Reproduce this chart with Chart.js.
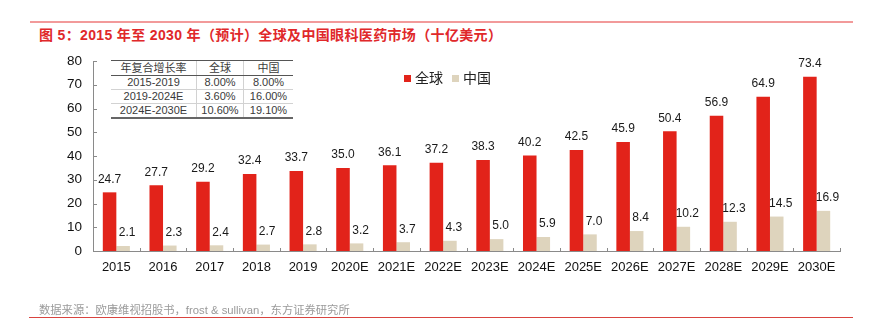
<!DOCTYPE html>
<html>
<head>
<meta charset="utf-8">
<script src="https://cdn.jsdelivr.net/npm/chart.js@4/dist/chart.umd.min.js"></script>
<style>
  html, body { margin: 0; padding: 0; background: #fff; }
  body { width: 871px; height: 322px; position: relative; overflow: hidden;
         font-family: "Liberation Sans", "Noto Sans CJK SC", sans-serif; }
  #topline { position: absolute; left: 30px; top: 21px; width: 823px; height: 2px; background: #f29a9a; }
  #title { position: absolute; left: 39px; top: 24px; font-size: 14px; font-weight: bold; color: #e0282a;
           white-space: nowrap; letter-spacing: 0.35px; }
  #source { position: absolute; left: 39px; top: 301px; font-size: 11.3px; color: #9a9a9a; white-space: nowrap; }
  #bottomline { position: absolute; left: 29px; top: 317px; width: 824px; height: 1px; background: #d9443f; }
  #wrap { position: absolute; left: 0; top: 0; width: 871px; height: 322px; }
  #legend { position: absolute; left: 404px; top: 67px; font-size: 14px; color: #222; white-space: nowrap; }
  #legend span.sw { display: inline-block; width: 7px; height: 7px; margin-right: 4px; vertical-align: 1px; }
  #legend span.item { margin-right: 9px; }
  table#cagr { position: absolute; left: 111px; top: 60px; border-collapse: collapse; font-size: 11px; color: #3a3a3a;
               background: #fff; }
  #cagr td { padding: 0; height: 13px; line-height: 13px; text-align: center; border-bottom: 1px solid #d2d2d2; }
  #cagr td + td { border-left: 1px solid #d2d2d2; }
  #cagr tr.head td { border-top: 1px solid #555; border-bottom: 1px solid #555; height: 14px; }
  #cagr tr.last td { border-bottom: 2px solid #666; }
</style>
</head>
<body>
<div id="topline"></div>
<div id="title">图 5：2015 年至 2030 年（预计）全球及中国眼科医药市场（十亿美元）</div>
<div id="wrap"><canvas id="c" width="871" height="322"></canvas></div>
<table id="cagr">
  <tr class="head"><td style="width:85px">年复合增长率</td><td style="width:46px">全球</td><td style="width:49px">中国</td></tr>
  <tr><td>2015-2019</td><td>8.00%</td><td>8.00%</td></tr>
  <tr><td>2019-2024E</td><td>3.60%</td><td>16.00%</td></tr>
  <tr class="last"><td>2024E-2030E</td><td>10.60%</td><td>19.10%</td></tr>
</table>
<div id="legend"><span class="item"><span class="sw" style="background:#e2231a"></span>全球</span><span class="item"><span class="sw" style="background:#ded4bd"></span>中国</span></div>
<div id="source">数据来源：欧康维视招股书，frost &amp; sullivan，东方证券研究所</div>
<div id="bottomline"></div>

<script>
// Market size by year, billions of USD
const years = ['2015','2016','2017','2018','2019','2020E','2021E','2022E','2023E','2024E',
               '2025E','2026E','2027E','2028E','2029E','2030E'];
const globalMarket = [24.7, 27.7, 29.2, 32.4, 33.7, 35.0, 36.1, 37.2, 38.3, 40.2, 42.5, 45.9, 50.4, 56.9, 64.9, 73.4];
const chinaMarket  = [2.1, 2.3, 2.4, 2.7, 2.8, 3.2, 3.7, 4.3, 5.0, 5.9, 7.0, 8.4, 10.2, 12.3, 14.5, 16.9];
const yTicks = [0, 10, 20, 30, 40, 50, 60, 70, 80];

const RED = '#e2231a';
const BEIGE = '#ded4bd';
const AXIS = '#8a8a8a';

// Value labels above each bar, plus short inward tick marks on both axes
const barLabels = {
  id: 'barLabels',
  afterDatasetsDraw(chart) {
    const ctx = chart.ctx;
    ctx.save();
    ctx.font = '12px "Liberation Sans", Arial, sans-serif';
    ctx.fillStyle = '#1a1a1a';
    ctx.textAlign = 'center';
    ctx.textBaseline = 'middle';
    chart.data.datasets.forEach((ds, di) => {
      const meta = chart.getDatasetMeta(di);
      meta.data.forEach((bar, i) => {
        const dx = di === 1 ? 4 : 0;
        ctx.fillText(ds.data[i].toFixed(1), bar.x + dx, bar.y - 13);
      });
    });
    // axis ticks
    const x = chart.scales.x, y = chart.scales.y;
    ctx.strokeStyle = AXIS;
    ctx.lineWidth = 1;
    ctx.beginPath();
    yTicks.forEach(v => {
      const py = Math.round(y.getPixelForValue(v)) + 0.5;
      ctx.moveTo(x.left, py); ctx.lineTo(x.left + 4, py);
    });
    const n = years.length;
    const w = (x.right - x.left) / n;
    for (let i = 0; i <= n; i++) {
      const px = Math.round(x.left + i * w) + 0.5;
      ctx.moveTo(px, y.bottom); ctx.lineTo(px, y.bottom - 3);
    }
    ctx.stroke();
    ctx.restore();
  }
};

new Chart(document.getElementById('c'), {
  type: 'bar',
  data: {
    labels: years,
    datasets: [
      { label: '全球', data: globalMarket, backgroundColor: RED },
      { label: '中国', data: chinaMarket, backgroundColor: BEIGE }
    ]
  },
  options: {
    responsive: false,
    animation: false,
    events: [],
    layout: { padding: { left: 0, right: 31, top: 61, bottom: 41 } },
    datasets: { bar: { categoryPercentage: 0.58, barPercentage: 1.0 } },
    plugins: { legend: { display: false }, tooltip: { enabled: false } },
    scales: {
      x: {
        grid: { display: false, drawTicks: false },
        border: { color: AXIS, width: 1 },
        ticks: { color: '#111', font: { size: 13, family: '"Liberation Sans", Arial, sans-serif' }, padding: 9,
                 maxRotation: 0, autoSkip: false },
        afterFit(s) { s.height = 30; }
      },
      y: {
        min: 0, max: 80,
        afterBuildTicks(s) { s.ticks = yTicks.map(v => ({ value: v })); },
        grid: { display: false, drawTicks: false },
        border: { color: AXIS, width: 1 },
        ticks: { color: '#111', font: { size: 13.5, family: '"Liberation Sans", Arial, sans-serif' }, padding: 11 },
        afterFit(s) { s.width = 93; }
      }
    }
  },
  plugins: [barLabels]
});
</script>
</body>
</html>
